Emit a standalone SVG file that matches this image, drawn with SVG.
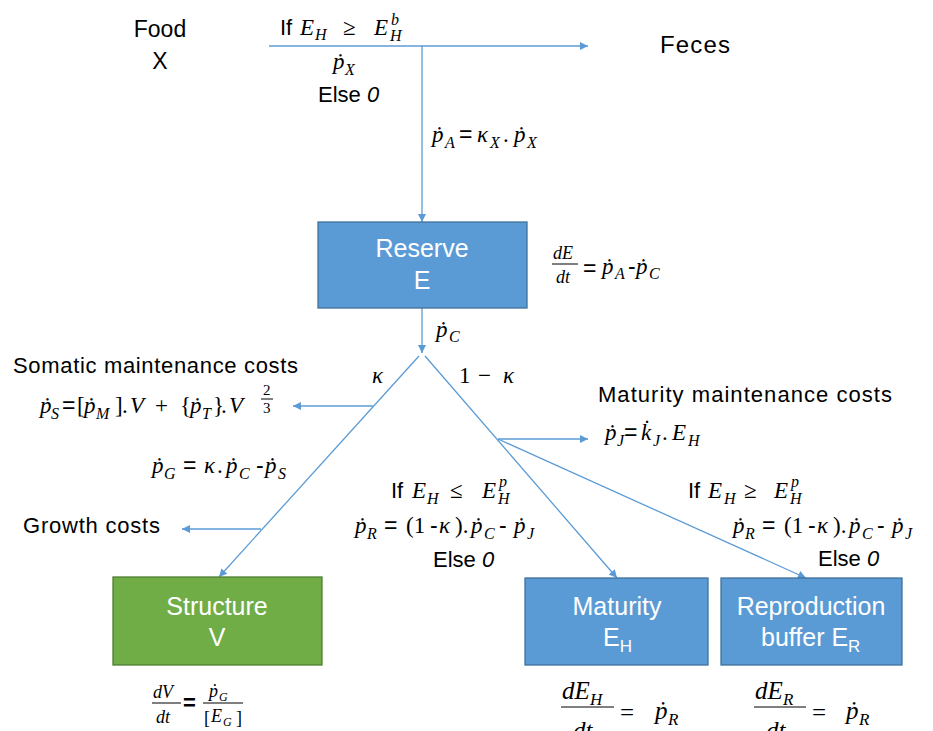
<svg xmlns="http://www.w3.org/2000/svg" width="933" height="731" viewBox="0 0 933 731">
<style>
.ln{stroke:#5B9BD5;stroke-width:1.3;fill:none}
.bx{fill:#5B9BD5;stroke:#41719C;stroke-width:1.3}
.gx{fill:#70AD47;stroke:#507E32;stroke-width:1.3}
.t{font-family:"Liberation Sans",Arial,sans-serif;font-size:22px;fill:#000}
.bt{font-family:"Liberation Sans",Arial,sans-serif;font-size:25px;fill:#fff}
.m{font-family:"Liberation Serif","Times New Roman","DejaVu Serif",serif;font-style:italic;font-size:23px;fill:#000}
.u{font-style:normal}
.sn{font-family:"Liberation Sans",Arial,sans-serif;font-style:normal}
.s{font-size:16px}
.it{font-style:italic}
.bar{stroke:#000;stroke-width:1}
</style>
<defs>
<marker id="ah" viewBox="0 0 10 10" refX="10" refY="5" markerWidth="10" markerHeight="8" orient="auto" markerUnits="userSpaceOnUse">
<path d="M0,0 L10,5 L0,10 z" fill="#5B9BD5"/>
</marker>
</defs>

<g id="connectors">
<path class="ln" d="M269,46 H588" marker-end="url(#ah)"/>
<path class="ln" d="M422,46 V222" marker-end="url(#ah)"/>
<path class="ln" d="M422,308 V353" marker-end="url(#ah)"/>
<path class="ln" d="M419,356 L219,577" marker-end="url(#ah)"/>
<path class="ln" d="M425,356 L617,578" marker-end="url(#ah)"/>
<path class="ln" d="M498,439 L806,578" marker-end="url(#ah)"/>
<path class="ln" d="M498,439 H588" marker-end="url(#ah)"/>
<path class="ln" d="M373,406 H293" marker-end="url(#ah)"/>
<path class="ln" d="M261,529 H182" marker-end="url(#ah)"/>
</g>

<g id="food">
<text class="t" x="160" y="37" text-anchor="middle" style="font-size:23px">Food</text>
<text class="t" x="160" y="69" text-anchor="middle" style="font-size:23px">X</text>
</g>
<g id="feces">
<text class="t" x="660" y="53" style="font-size:24px" textLength="70">Feces</text>
</g>

<g id="reserve">
<rect class="bx" x="318" y="222" width="209" height="86"/>
<text class="bt" x="422" y="257" text-anchor="middle">Reserve</text>
<text class="bt" x="422" y="289" text-anchor="middle">E</text>
</g>
<g id="structure">
<rect class="gx" x="113" y="577" width="209" height="88"/>
<text class="bt" x="217" y="615" text-anchor="middle">Structure</text>
<text class="bt" x="217" y="646" text-anchor="middle">V</text>
</g>
<g id="maturity">
<rect class="bx" x="525" y="578" width="183" height="87"/>
<text class="bt" x="617" y="615" text-anchor="middle">Maturity</text>
<text class="bt" x="603" y="646">E<tspan style="font-size:17px" y="652">H</tspan></text>
</g>
<g id="reproduction">
<rect class="bx" x="721" y="578" width="181" height="87"/>
<text class="bt" x="811" y="615" text-anchor="middle">Reproduction</text>
<text class="bt" x="761" y="646">buffer E<tspan style="font-size:17px" y="652">R</tspan></text>
</g>

<g id="labels">
<!-- If E_H >= E_H^b -->
<text class="t" x="280" y="35">If</text>
<text class="m"><tspan x="300" y="35">E</tspan><tspan class="s" x="315" y="40">H</tspan><tspan class="u" x="343" y="35">≥</tspan><tspan x="374" y="35">E</tspan><tspan class="s" x="390" y="41">H</tspan><tspan class="s" x="391" y="25">b</tspan></text>
<text class="m"><tspan x="333" y="69">ṗ</tspan><tspan class="s" x="345" y="75">X</tspan></text>
<text class="t" x="318" y="102">Else <tspan class="it">0</tspan></text>

<!-- pA -->
<text class="m"><tspan x="432" y="142">ṗ</tspan><tspan class="s" x="445" y="148">A</tspan><tspan class="sn" x="459" y="142">=</tspan><tspan x="477" y="142">κ</tspan><tspan class="s" x="490" y="148">X</tspan><tspan class="u" x="503" y="142">.</tspan><tspan x="514" y="142">ṗ</tspan><tspan class="s" x="527" y="148">X</tspan></text>

<!-- dE/dt -->
<text class="m" style="font-size:18px"><tspan x="553" y="259">dE</tspan><tspan x="556" y="283">dt</tspan></text>
<line class="bar" x1="552" y1="264" x2="578" y2="264"/>
<text class="m"><tspan class="sn" x="583" y="276">=</tspan><tspan x="602" y="274">ṗ</tspan><tspan class="s" x="615" y="279">A</tspan><tspan class="sn" x="628" y="274">-</tspan><tspan x="636" y="274">ṗ</tspan><tspan class="s" x="649" y="279">C</tspan></text>

<!-- pC -->
<text class="m"><tspan x="436" y="337">ṗ</tspan><tspan class="s" x="449" y="342">C</tspan></text>
<text class="m" x="372" y="383">κ</text>
<text class="m"><tspan class="u" x="459" y="383">1</tspan><tspan class="u" x="478" y="383">−</tspan><tspan x="503" y="383">κ</tspan></text>

<!-- somatic -->
<text class="t" x="13" y="373" textLength="285">Somatic maintenance costs</text>
<text class="m"><tspan x="40" y="413">ṗ</tspan><tspan class="s" x="51" y="419">S</tspan><tspan class="sn" x="62" y="413">=</tspan><tspan class="u" x="77" y="413">[</tspan><tspan x="84" y="413">ṗ</tspan><tspan class="s" x="96" y="419">M</tspan><tspan class="u" x="115" y="413">]</tspan><tspan class="u" x="122" y="413">.</tspan><tspan x="130" y="413">V</tspan><tspan class="u" x="155" y="413">+</tspan><tspan class="u" x="180" y="413">{</tspan><tspan x="190" y="413">ṗ</tspan><tspan class="s" x="202" y="419">T</tspan><tspan class="u" x="213" y="413">}</tspan><tspan class="u" x="221" y="413">.</tspan><tspan x="229" y="413">V</tspan></text>
<text class="m u" style="font-size:15px"><tspan x="263" y="395">2</tspan><tspan x="263" y="413">3</tspan></text>
<line class="bar" x1="261" y1="399" x2="273" y2="399"/>

<!-- pG -->
<text class="m"><tspan x="152" y="473">ṗ</tspan><tspan class="s" x="164" y="479">G</tspan><tspan class="sn" x="183" y="473">=</tspan><tspan x="204" y="473">κ</tspan><tspan class="u" x="217" y="473">.</tspan><tspan x="226" y="473">ṗ</tspan><tspan class="s" x="239" y="479">C</tspan><tspan class="sn" x="256" y="473">-</tspan><tspan x="265" y="473">ṗ</tspan><tspan class="s" x="278" y="479">S</tspan></text>
<text class="t" x="23" y="533" textLength="137">Growth costs</text>

<!-- maturity maintenance -->
<text class="t" x="598" y="402" textLength="294">Maturity maintenance costs</text>
<text class="m"><tspan x="605" y="440">ṗ</tspan><tspan class="s" x="617" y="446">J</tspan><tspan class="sn" x="624" y="440">=</tspan><tspan x="641" y="440">k̇</tspan><tspan class="s" x="653" y="446">J</tspan><tspan class="u" x="662" y="440">.</tspan><tspan x="672" y="440">E</tspan><tspan class="s" x="688" y="446">H</tspan></text>

<!-- left condition -->
<text class="t" x="391" y="498">If</text>
<text class="m"><tspan x="412" y="498">E</tspan><tspan class="s" x="427" y="504">H</tspan><tspan class="u" x="450" y="498">≤</tspan><tspan x="482" y="498">E</tspan><tspan class="s" x="498" y="504">H</tspan><tspan class="s" x="499" y="487">p</tspan></text>
<text class="m"><tspan x="355" y="533">ṗ</tspan><tspan class="s" x="367" y="539">R</tspan><tspan class="sn" x="384" y="533">=</tspan><tspan class="u" x="406" y="533">(1</tspan><tspan class="sn" x="430" y="533">-</tspan><tspan x="439" y="533">κ</tspan><tspan class="u" x="455" y="533">).</tspan><tspan x="471" y="533">ṗ</tspan><tspan class="s" x="484" y="539">C</tspan><tspan class="sn" x="499" y="533">-</tspan><tspan x="514" y="533">ṗ</tspan><tspan class="s" x="527" y="539">J</tspan></text>
<text class="t" x="433" y="567">Else <tspan class="it">0</tspan></text>

<!-- right condition -->
<text class="t" x="688" y="498">If</text>
<text class="m"><tspan x="708" y="498">E</tspan><tspan class="s" x="724" y="504">H</tspan><tspan class="u" x="744" y="498">≥</tspan><tspan x="774" y="498">E</tspan><tspan class="s" x="790" y="504">H</tspan><tspan class="s" x="791" y="487">p</tspan></text>
<text class="m"><tspan x="733" y="533">ṗ</tspan><tspan class="s" x="745" y="539">R</tspan><tspan class="sn" x="762" y="533">=</tspan><tspan class="u" x="784" y="533">(1</tspan><tspan class="sn" x="808" y="533">-</tspan><tspan x="817" y="533">κ</tspan><tspan class="u" x="833" y="533">).</tspan><tspan x="849" y="533">ṗ</tspan><tspan class="s" x="862" y="539">C</tspan><tspan class="sn" x="877" y="533">-</tspan><tspan x="892" y="533">ṗ</tspan><tspan class="s" x="905" y="539">J</tspan></text>
<text class="t" x="818" y="566">Else <tspan class="it">0</tspan></text>

<!-- dV/dt -->
<text class="m" style="font-size:18px"><tspan x="153" y="698">dV</tspan><tspan x="156" y="723">dt</tspan></text>
<line class="bar" x1="152" y1="703" x2="181" y2="703"/>
<text class="t" x="183" y="710" font-weight="bold">=</text>
<text class="m" style="font-size:18px"><tspan x="209" y="697">ṗ</tspan><tspan style="font-size:12px" x="219" y="701">G</tspan><tspan class="u" x="204" y="724">[</tspan><tspan x="211" y="722">E</tspan><tspan style="font-size:12px" x="223" y="726">G</tspan><tspan class="u" x="236" y="724">]</tspan></text>
<line class="bar" x1="203" y1="703" x2="243" y2="703"/>

<!-- dEH/dt -->
<text class="m" style="font-size:25px"><tspan x="562" y="699">dE</tspan><tspan style="font-size:17px" x="590" y="705">H</tspan><tspan x="573" y="739">dt</tspan><tspan class="u" x="620" y="721">=</tspan><tspan x="655" y="719">ṗ</tspan><tspan style="font-size:17px" x="668" y="725">R</tspan></text>
<line class="bar" x1="561" y1="707" x2="614" y2="707"/>

<!-- dER/dt -->
<text class="m" style="font-size:25px"><tspan x="755" y="699">dE</tspan><tspan style="font-size:17px" x="783" y="705">R</tspan><tspan x="766" y="739">dt</tspan><tspan class="u" x="812" y="721">=</tspan><tspan x="846" y="719">ṗ</tspan><tspan style="font-size:17px" x="859" y="725">R</tspan></text>
<line class="bar" x1="754" y1="707" x2="806" y2="707"/>
</g>
</svg>
